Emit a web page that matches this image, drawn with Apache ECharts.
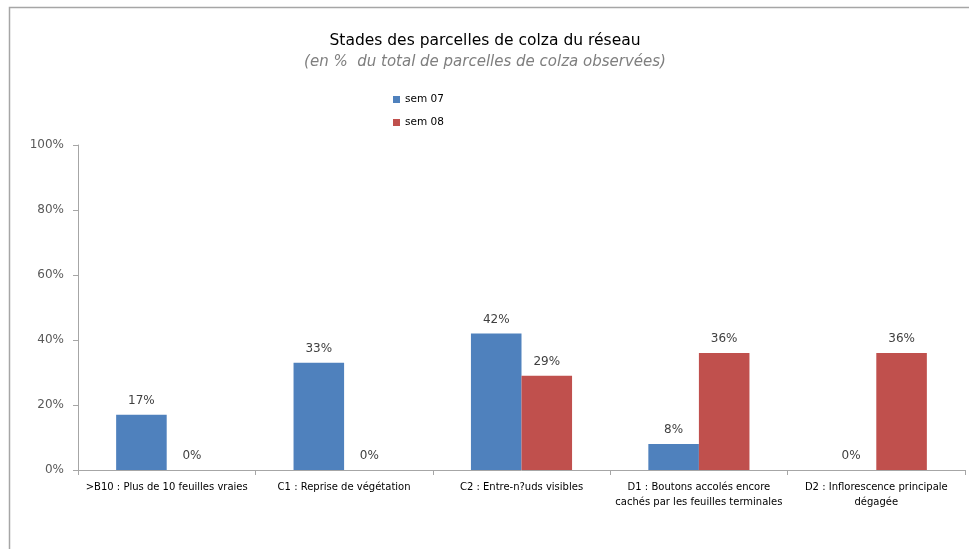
<!DOCTYPE html>
<html><head><meta charset="utf-8">
<script src="https://cdn.jsdelivr.net/npm/echarts@6/dist/echarts.min.js"></script>
<style>html,body{margin:0;padding:0;background:#fff}#c{width:969px;height:549px}</style>
</head><body><div id="c"></div>
<script>
const categories = [
  ">B10 : Plus de 10 feuilles vraies",
  "C1 : Reprise de végétation",
  "C2 : Entre-n?uds visibles",
  "D1 : Boutons accolés encore\ncachés par les feuilles terminales",
  "D2 : Inflorescence principale\ndégagée"
];
const sem07 = [17, 33, 42, 8, 0];
const sem08 = [0, 0, 29, 36, 36];
const yTicks = [0, 20, 40, 60, 80, 100];

const chart = echarts.init(document.getElementById('c'));
const lbl = {show: true, position: 'top', formatter: p => p.value + '%', color: '#404040', fontSize: 12, fontFamily: 'DejaVu Sans', distance: 8};
chart.setOption({
  animation: false,
  graphic: [{type: 'rect', shape: {x: 9.5, y: 7.5, width: 1000, height: 600}, style: {fill: 'none', stroke: '#a6a6a6', lineWidth: 1.5}, silent: true}],
  title: [
    {text: 'Stades des parcelles de colza du réseau', left: 480, top: 28, textAlign: 'center',
     textStyle: {fontSize: 15.5, fontWeight: 'normal', color: '#000', fontFamily: 'DejaVu Sans'}},
    {text: '(en %  du total de parcelles de colza observées)', left: 480, top: 50, textAlign: 'center',
     textStyle: {fontSize: 15, fontWeight: 'normal', fontStyle: 'italic', color: '#7f7f7f', fontFamily: 'DejaVu Sans'}}
  ],
  legend: {orient: 'vertical', left: 388, top: 89, itemWidth: 7, itemHeight: 7, itemGap: 12,
    icon: 'rect', textStyle: {fontSize: 10.5, color: '#000', fontFamily: 'DejaVu Sans'},
    data: ['sem 07', 'sem 08']},
  grid: {left: 78, right: 4, top: 145, bottom: 79, containLabel: false},
  xAxis: {type: 'category', data: categories,
    axisLine: {lineStyle: {color: '#a6a6a6'}},
    axisTick: {show: true, length: 5, lineStyle: {color: '#a6a6a6'}},
    axisLabel: {interval: 0, color: '#000', fontSize: 10, fontFamily: 'DejaVu Sans', margin: 10, lineHeight: 15}},
  yAxis: {type: 'value', min: 0, max: 100, interval: 20,
    axisLine: {show: true, lineStyle: {color: '#a6a6a6'}},
    axisTick: {show: true, length: 5, lineStyle: {color: '#a6a6a6'}},
    splitLine: {show: false},
    axisLabel: {formatter: v => yTicks.includes(v) ? v + '%' : '', color: '#595959', fontSize: 12, fontFamily: 'DejaVu Sans', margin: 14}},
  series: [
    {name: 'sem 07', type: 'bar', data: sem07, itemStyle: {color: '#4f81bd'}, barGap: '0%', barCategoryGap: '43%', label: lbl},
    {name: 'sem 08', type: 'bar', data: sem08, itemStyle: {color: '#c0504d'}, barGap: '0%', barCategoryGap: '43%', label: lbl}
  ]
});
</script></body></html>
